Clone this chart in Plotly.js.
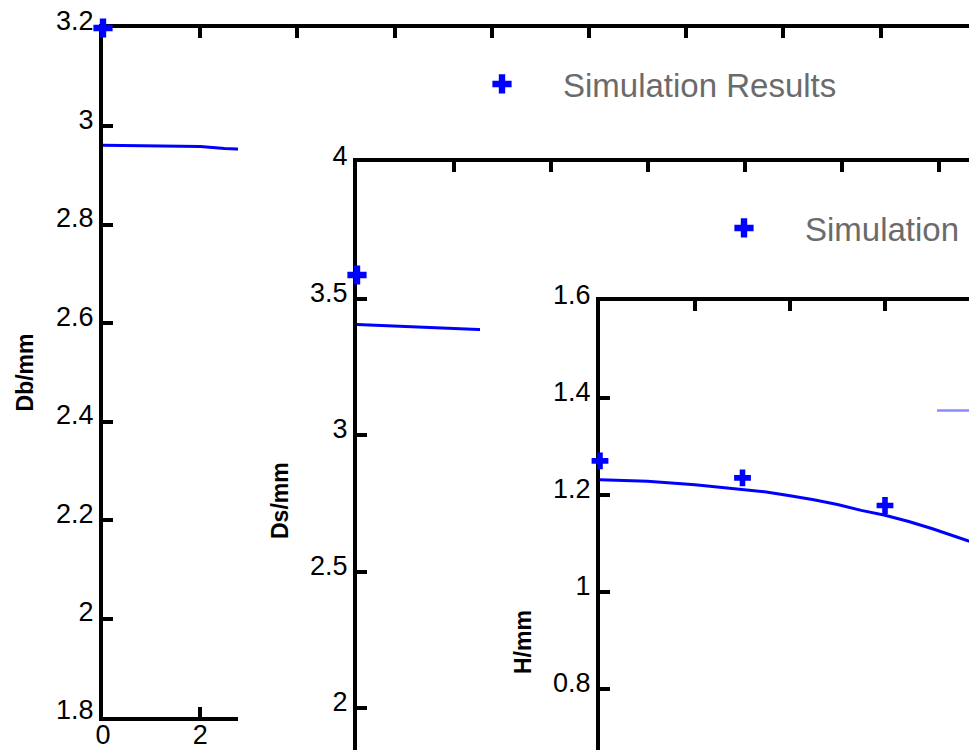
<!DOCTYPE html>
<html><head><meta charset="utf-8">
<script src="https://cdn.plot.ly/plotly-3.0.1.min.js"></script>
<style>html,body{margin:0;padding:0;background:#fff;overflow:hidden}</style>
</head><body>
<div id="chart" style="width:969px;height:750px"></div>
<script>
// ---- data ----
const legendName = 'Simulation Results';
const dbSimX = [0];
const dbSimY = [3.2];
const dbLineX = [0, 1, 2, 2.5, 3];
const dbLineY = [2.962, 2.961, 2.959, 2.955, 2.953];

const dsSimX = [0];
const dsSimY = [3.586];
const dsLineX = [0, 1, 2, 3];
const dsLineY = [3.405, 3.398, 3.390, 3.383];

const hSimX = [0, 3, 6];
const hSimY = [1.270, 1.235, 1.178];
const hLineX = [0, 1, 2, 3, 3.5, 4, 4.5, 5, 5.5, 6, 6.5, 7, 7.5, 8];
const hLineY = [1.231, 1.228, 1.221, 1.212, 1.206, 1.198, 1.190, 1.180, 1.168, 1.158, 1.145, 1.130, 1.114, 1.097];

const yTitles = ['Db/mm', 'Ds/mm', 'H/mm'];

// ---- styling ----
const W = 969, H = 750;
const FONT = 'Liberation Sans, Arial, sans-serif';
const BLUE = '#0000ff';
const fx = p => p / W;
const fy = p => 1 - p / H;

const axBase = {
  showline: true, linecolor: '#000', linewidth: 4, layer: 'below traces',
  ticks: 'inside', ticklen: 10, tickwidth: 4, tickcolor: '#000',
  showgrid: false, zeroline: false, fixedrange: true,
  tickfont: {family: FONT, size: 27, color: '#000'}
};
const coverAx = {showline: false, showticklabels: false, ticks: '', showgrid: false, zeroline: false, range: [0, 1], fixedrange: true};
const titleFont = {family: FONT, size: 23, color: '#000', weight: 700};

const markerStyle = (s) => ({symbol: 'cross', size: s, color: BLUE, line: {width: 0}});

const traces = [
  {x: dbLineX, y: dbLineY, xaxis: 'x', yaxis: 'y', mode: 'lines', line: {color: BLUE, width: 3}, showlegend: false, hoverinfo: 'skip'},
  {x: dbSimX, y: dbSimY, xaxis: 'x', yaxis: 'y', mode: 'markers', marker: markerStyle(16), name: legendName, legend: 'legend', cliponaxis: false, hoverinfo: 'skip'},
  {x: [], y: [], xaxis: 'x2', yaxis: 'y2', mode: 'markers', showlegend: false, hoverinfo: 'skip'},
  {x: dsLineX, y: dsLineY, xaxis: 'x3', yaxis: 'y3', mode: 'lines', line: {color: BLUE, width: 3}, showlegend: false, hoverinfo: 'skip'},
  {x: dsSimX, y: dsSimY, xaxis: 'x3', yaxis: 'y3', mode: 'markers', marker: markerStyle(16), name: legendName, legend: 'legend2', cliponaxis: false, hoverinfo: 'skip'},
  {x: [], y: [], xaxis: 'x4', yaxis: 'y4', mode: 'markers', showlegend: false, hoverinfo: 'skip'},
  {x: hLineX, y: hLineY, xaxis: 'x5', yaxis: 'y5', mode: 'lines', line: {color: BLUE, width: 3}, showlegend: false, hoverinfo: 'skip'},
  {x: hSimX, y: hSimY, xaxis: 'x5', yaxis: 'y5', mode: 'markers', marker: markerStyle(14), showlegend: false, cliponaxis: false, hoverinfo: 'skip'},
  {x: [null], y: [null], xaxis: 'x5', yaxis: 'y5', mode: 'lines', line: {color: 'rgba(60,60,255,0.6)', width: 2.5}, name: '', legend: 'legend3', hoverinfo: 'skip'}
];

const legBase = {xanchor: 'left', yanchor: 'middle', itemwidth: 112, bgcolor: 'rgba(0,0,0,0)', borderwidth: 0,
  font: {family: FONT, size: 33, color: '#6b6b6b'}};

const titleAnn = (text, xc, yc) => ({text: text, xref: 'paper', yref: 'paper', x: fx(xc), y: fy(yc),
  xanchor: 'center', yanchor: 'middle', textangle: -90, showarrow: false, font: titleFont});

const layout = {
  width: W, height: H,
  margin: {l: 0, r: 0, t: 0, b: 0, pad: 0, autoexpand: false},
  paper_bgcolor: '#fff', plot_bgcolor: '#fff',
  showlegend: true,
  legend: Object.assign({}, legBase, {x: fx(441), y: fy(84)}),
  legend2: Object.assign({}, legBase, {x: fx(683), y: fy(228)}),
  legend3: Object.assign({}, legBase, {x: fx(932), y: fy(410.5)}),
  // panel 1
  xaxis: Object.assign({}, axBase, {domain: [fx(103), 1], range: [0, 866 / 48.6], dtick: 2, tick0: 0, anchor: 'y', side: 'bottom', mirror: 'ticks', ticklabelstandoff: -9}),
  yaxis: Object.assign({}, axBase, {domain: [fy(717), fy(28)], range: [1.8, 3.2], dtick: 0.2, tick0: 0, anchor: 'x', ticklabelshift: -7,
    title: {text: yTitles[0], font: titleFont, standoff: 17}}),
  // cover behind panel 2
  xaxis2: Object.assign({}, coverAx, {domain: [fx(238), 1], anchor: 'y2'}),
  yaxis2: Object.assign({}, coverAx, {domain: [0, fy(143)], anchor: 'x2'}),
  // panel 2
  xaxis3: Object.assign({}, axBase, {domain: [fx(357), 1], range: [0, 612 / 48.5], dtick: 2, tick0: 0, anchor: 'y3', side: 'top', showticklabels: false}),
  yaxis3: Object.assign({}, axBase, {domain: [0, fy(162)], range: [4 - 588 / 273, 4], dtick: 0.5, tick0: 0, anchor: 'x3', ticklabelshift: -6}),
  // cover behind panel 3
  xaxis4: Object.assign({}, coverAx, {domain: [fx(480), 1], anchor: 'y4'}),
  yaxis4: Object.assign({}, coverAx, {domain: [0, fy(282)], anchor: 'x4'}),
  // panel 3
  xaxis5: Object.assign({}, axBase, {domain: [fx(600), 1], range: [0, 369 / 47.5], dtick: 2, tick0: 0, anchor: 'y5', side: 'top', showticklabels: false}),
  yaxis5: Object.assign({}, axBase, {domain: [0, fy(301)], range: [1.6 - 449 / 484.6, 1.6], dtick: 0.2, tick0: 0, anchor: 'x5', ticklabelshift: -6}),
  annotations: [
    titleAnn(yTitles[1], 280, 501),
    titleAnn(yTitles[2], 523, 642)
  ]
};

Plotly.newPlot('chart', traces, layout, {displayModeBar: false, staticPlot: true});
</script>
</body></html>
